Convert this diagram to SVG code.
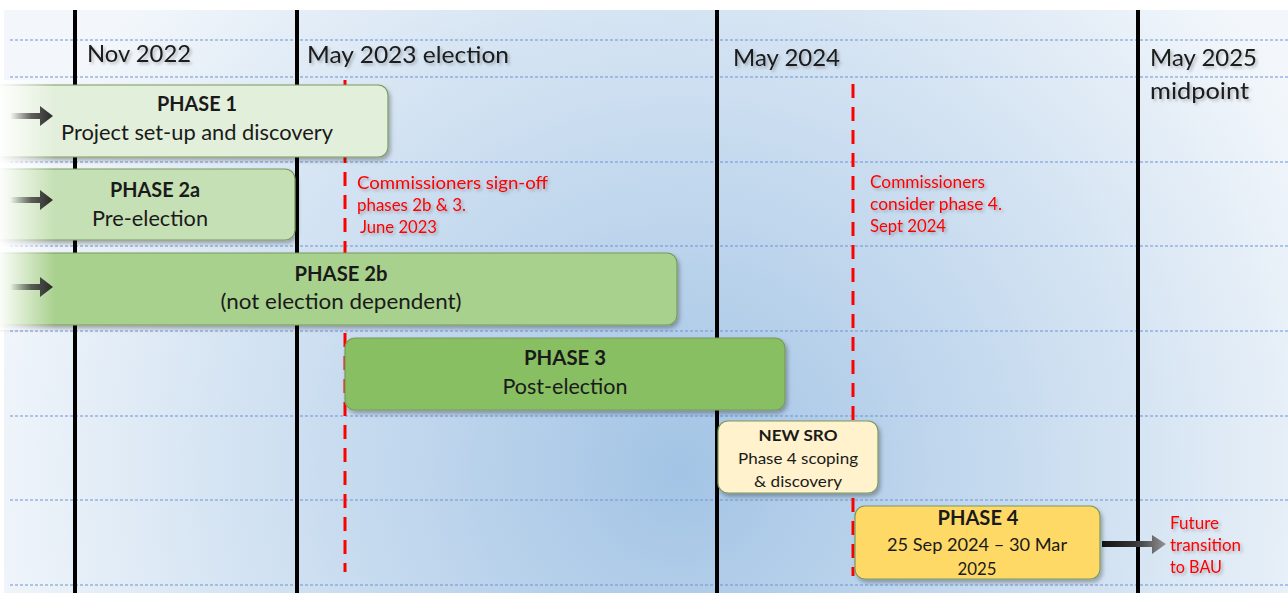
<svg xmlns="http://www.w3.org/2000/svg" width="1288" height="593" viewBox="0 0 1288 593">
<defs>
<radialGradient id="bg" cx="680" cy="470" r="720" gradientUnits="userSpaceOnUse">
<stop offset="0" stop-color="#a3c4e5"/>
<stop offset="0.6" stop-color="#d2e2f2"/>
<stop offset="1" stop-color="#f3f7fb"/>
</radialGradient>
<linearGradient id="fadeL" x1="0" y1="0" x2="1" y2="0">
<stop offset="0" stop-color="#ffffff" stop-opacity="0.95"/>
<stop offset="1" stop-color="#ffffff" stop-opacity="0"/>
</linearGradient>
<linearGradient id="arrL" x1="0" y1="0" x2="1" y2="0">
<stop offset="0" stop-color="#3a3a3a" stop-opacity="0"/>
<stop offset="0.5" stop-color="#3a3a3a" stop-opacity="0.8"/>
<stop offset="1" stop-color="#2a2a2a"/>
</linearGradient>
<linearGradient id="arrR" x1="1100" y1="0" x2="1168" y2="0" gradientUnits="userSpaceOnUse">
<stop offset="0" stop-color="#111111"/>
<stop offset="0.5" stop-color="#333333"/>
<stop offset="1" stop-color="#9a9a9a"/>
</linearGradient>
<filter id="sh" x="-10%" y="-20%" width="120%" height="150%">
<feDropShadow dx="2" dy="3" stdDeviation="2" flood-color="#000" flood-opacity="0.3"/>
</filter>
<filter id="tsh" x="-5%" y="-20%" width="110%" height="160%">
<feDropShadow dx="2" dy="2" stdDeviation="1.5" flood-color="#000" flood-opacity="0.25"/>
</filter>
</defs>
<style>
.grid{stroke:#6f93d4;stroke-width:1;stroke-dasharray:3 2;}
.vline{stroke:#000;stroke-width:4;}
.red{stroke:#ff0000;stroke-width:3;stroke-dasharray:14 9;}
.box{stroke:#7a9a5c;stroke-width:1.2;filter:url(#sh);}
.t{font-family:Lato,"Open Sans","Liberation Sans",sans-serif;fill:#1a1a1a;text-anchor:middle;}
.b{font-weight:bold;}
.hdr{font-family:Lato,"Open Sans","Liberation Sans",sans-serif;font-size:23px;fill:#1a1a1a;filter:url(#tsh);}
.note{font-family:Lato,"Open Sans","Liberation Sans",sans-serif;font-size:16.5px;fill:#ff0000;filter:url(#tsh);}
</style>
<rect x="0" y="0" width="1288" height="593" fill="#ffffff"/>
<rect x="4" y="10" width="1284" height="583" fill="url(#bg)"/>
<g id="grid">
<line class="grid" x1="10" y1="40" x2="1288" y2="40"/>
<line class="grid" x1="10" y1="77" x2="1288" y2="77"/>
<line class="grid" x1="10" y1="162" x2="1288" y2="162"/>
<line class="grid" x1="10" y1="246" x2="1288" y2="246"/>
<line class="grid" x1="10" y1="331" x2="1288" y2="331"/>
<line class="grid" x1="10" y1="416" x2="1288" y2="416"/>
<line class="grid" x1="10" y1="500" x2="1288" y2="500"/>
<line class="grid" x1="10" y1="585" x2="1288" y2="585"/>
</g>
<g id="timelines">
<line class="vline" x1="75" y1="10" x2="75" y2="593"/>
<line class="vline" x1="297" y1="10" x2="297" y2="593"/>
<line class="vline" x1="717" y1="10" x2="717" y2="593"/>
<line class="vline" x1="1138" y1="10" x2="1138" y2="593"/>
<line class="red" x1="345" y1="80" x2="345" y2="572"/>
<line class="red" x1="853" y1="84" x2="853" y2="576"/>
</g>
<g id="headers">
<text class="hdr" x="87" y="62" textLength="104" lengthAdjust="spacingAndGlyphs">Nov 2022</text>
<text class="hdr" x="307" y="63" textLength="202" lengthAdjust="spacingAndGlyphs">May 2023 election</text>
<text class="hdr" x="733" y="66" textLength="107" lengthAdjust="spacingAndGlyphs">May 2024</text>
<text class="hdr" x="1150" y="66" textLength="107" lengthAdjust="spacingAndGlyphs">May 2025</text>
<text class="hdr" x="1150" y="99" textLength="99" lengthAdjust="spacingAndGlyphs">midpoint</text>
</g>
<g id="notes">
<text class="note" x="357" y="189" textLength="191" lengthAdjust="spacingAndGlyphs">Commissioners sign-off</text>
<text class="note" x="357" y="211" textLength="109" lengthAdjust="spacingAndGlyphs">phases 2b &amp; 3.</text>
<text class="note" x="360" y="233" textLength="77" lengthAdjust="spacingAndGlyphs">June 2023</text>
<text class="note" x="870" y="188" textLength="115" lengthAdjust="spacingAndGlyphs">Commissioners</text>
<text class="note" x="870" y="210" textLength="132" lengthAdjust="spacingAndGlyphs">consider phase 4.</text>
<text class="note" x="870" y="232" textLength="76" lengthAdjust="spacingAndGlyphs">Sept 2024</text>
</g>
<g id="phase1">
<rect class="box" x="-10" y="85" width="398" height="72" rx="10" fill="#e2efda"/>
<text class="t b" x="197" y="111" font-size="20" textLength="80" lengthAdjust="spacingAndGlyphs">PHASE 1</text>
<text class="t" x="197" y="140" font-size="21" textLength="272" lengthAdjust="spacingAndGlyphs">Project set-up and discovery</text>
</g>
<g id="phase2a">
<rect class="box" x="-10" y="169" width="305" height="71" rx="10" fill="#c5e0b4"/>
<text class="t b" x="155" y="197" font-size="20" textLength="90" lengthAdjust="spacingAndGlyphs">PHASE 2a</text>
<text class="t" x="150" y="226" font-size="21" textLength="116" lengthAdjust="spacingAndGlyphs">Pre-election</text>
</g>
<g id="phase2b">
<rect class="box" x="-10" y="253" width="687" height="72" rx="10" fill="#a9d18e"/>
<text class="t b" x="341" y="281" font-size="20" textLength="93" lengthAdjust="spacingAndGlyphs">PHASE 2b</text>
<text class="t" x="341" y="309" font-size="21" textLength="241" lengthAdjust="spacingAndGlyphs">(not election dependent)</text>
</g>
<g id="phase3">
<rect class="box" x="345" y="338" width="440" height="72" rx="10" fill="#88bf62"/>
<text class="t b" x="565" y="365" font-size="20" textLength="82" lengthAdjust="spacingAndGlyphs">PHASE 3</text>
<text class="t" x="565" y="394" font-size="21" textLength="125" lengthAdjust="spacingAndGlyphs">Post-election</text>
</g>
<g id="newsro">
<rect class="box" x="718" y="421" width="160" height="72" rx="10" fill="#fff2cc" stroke="#9aab7a"/>
<text class="t b" x="798" y="441" font-size="16" textLength="79" lengthAdjust="spacingAndGlyphs">NEW SRO</text>
<text class="t" x="798" y="464" font-size="16" textLength="120" lengthAdjust="spacingAndGlyphs">Phase 4 scoping</text>
<text class="t" x="798" y="487" font-size="16" textLength="88" lengthAdjust="spacingAndGlyphs">&amp; discovery</text>
</g>
<g id="phase4">
<rect class="box" x="855" y="506" width="245" height="73" rx="10" fill="#ffd966" stroke="#8f9a6a"/>
<text class="t b" x="978" y="525" font-size="20" textLength="81" lengthAdjust="spacingAndGlyphs">PHASE 4</text>
<text class="t" x="977" y="551" font-size="17.5" textLength="180" lengthAdjust="spacingAndGlyphs">25 Sep 2024 – 30 Mar</text>
<text class="t" x="977" y="575" font-size="17.5" textLength="39" lengthAdjust="spacingAndGlyphs">2025</text>
</g>
<rect x="0" y="80" width="55" height="250" fill="url(#fadeL)"/>
<g id="connectors">
<path d="M10 113 H40 V106 L53 116 L40 126 V119 H10 Z" fill="url(#arrL)"/>
<path d="M10 197 H40 V190 L53 200 L40 210 V203 H10 Z" fill="url(#arrL)"/>
<path d="M10 284 H40 V277 L53 287 L40 297 V290 H10 Z" fill="url(#arrL)"/>
<path d="M1102 541 H1152 V535 L1166 544 L1152 554 V547 H1102 Z" fill="url(#arrR)"/>
</g>
<g id="future">
<text class="note" x="1170" y="529" textLength="49" lengthAdjust="spacingAndGlyphs">Future</text>
<text class="note" x="1170" y="551" textLength="71" lengthAdjust="spacingAndGlyphs">transition</text>
<text class="note" x="1170" y="573" textLength="52" lengthAdjust="spacingAndGlyphs">to BAU</text>
</g>
</svg>
